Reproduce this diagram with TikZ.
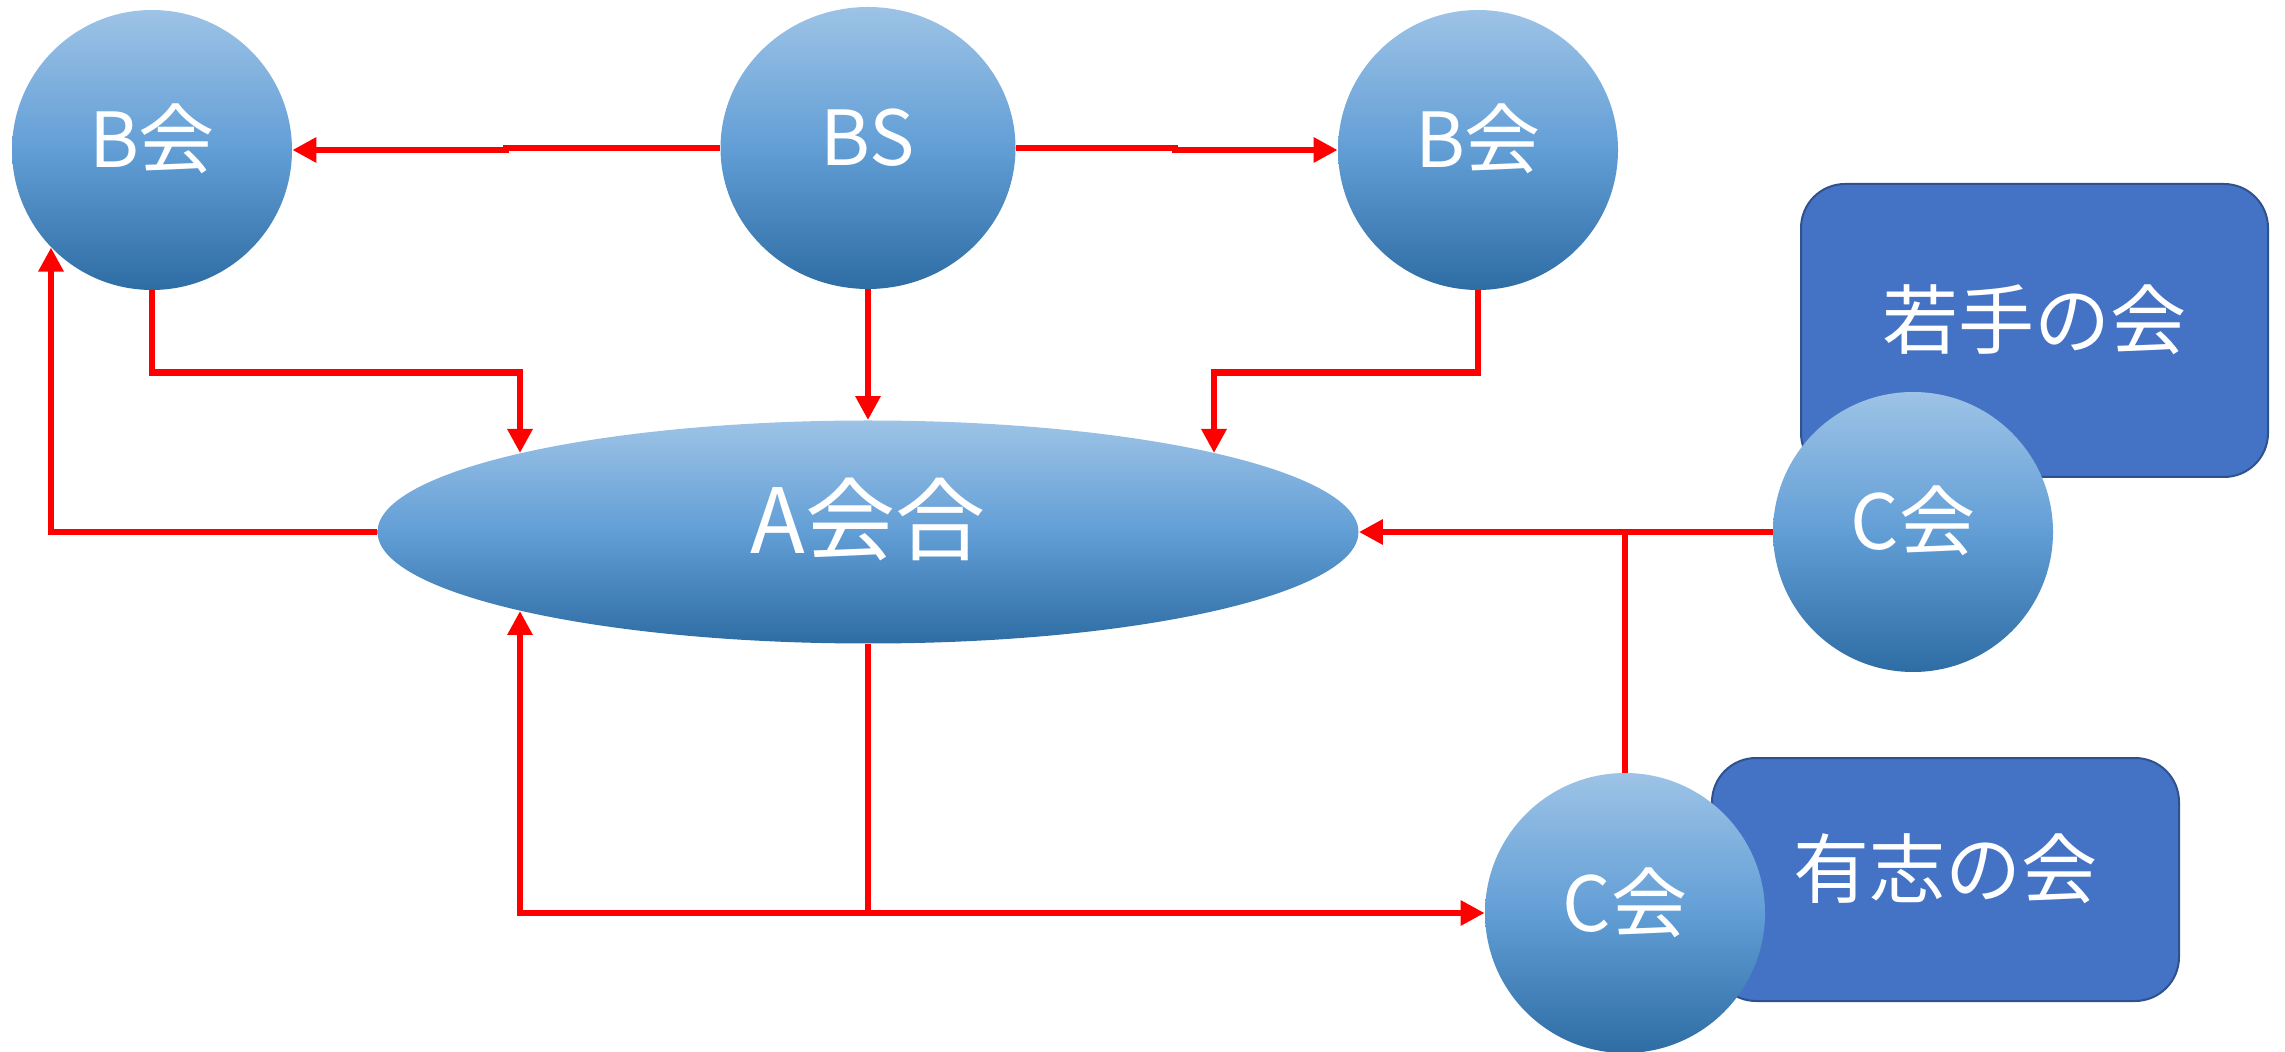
\documentclass[tikz,border=0pt]{standalone}
\usepackage{fontspec}
\setmainfont{Noto Sans CJK JP}
\usetikzlibrary{arrows.meta,shapes.geometric,calc}
\definecolor{ctop}{RGB}{157,195,230}
\definecolor{cmid}{RGB}{98,158,214}
\definecolor{cbot}{RGB}{46,108,164}
\definecolor{boxfill}{RGB}{68,114,196}
\definecolor{boxline}{RGB}{47,82,143}
\newcommand\nodetext[2][-9pt]{\raisebox{#1}[0pt][0pt]{#2}}
\tikzset{
  orb/.style={ellipse, inner sep=0pt, text=white, top color=ctop, bottom color=cbot, middle color=cmid, font=\fontsize{38}{44}\selectfont},
  circ/.style={orb, minimum width=140pt, minimum height=140pt},
  box/.style={rounded corners=22pt, draw=boxline, line width=1pt, fill=boxfill, text=white, minimum width=233.5pt, font=\fontsize{38}{44}\selectfont},
  conn/.style={draw=red, line width=3.3pt},
  arr/.style={conn, -{Triangle[length=12pt,width=12pt]}}
}
\begin{document}
\begin{tikzpicture}[x=0.5pt,y=-0.5pt]
\useasboundingbox (0,0) rectangle (2285,1052);
\node[box, minimum height=146.5pt] (W) at (2034.5,330.5) {\nodetext{若手の会}};
\node[box, minimum height=121.5pt] (Y) at (1945.5,879.5) {\nodetext{有志の会}};
\node[circ] (Bl) at (152,150) {\nodetext{B会}};
\node[orb, minimum width=147.5pt, minimum height=141pt] (BS) at (868,148) {\nodetext{BS}};
\node[circ] (Br) at (1478,150) {\nodetext{B会}};
\node[circ] (Cr) at (1913,532) {\nodetext{C会}};
\node[circ] (Cb) at (1625,913) {\nodetext{C会}};
\node[orb, minimum width=490.5pt, minimum height=111.5pt, font=\fontsize{45}{52}\selectfont] (A) at (868,532) {\nodetext[-11pt]{A会合}};
\coordinate (AinL) at ($(A.center)+(-348,-79)$);
\coordinate (AinR) at ($(A.center)+(346,-79)$);
\coordinate (AinB) at ($(A.center)+(-348,79)$);
\draw[arr] (BS.west) -- ++(-214,0) |- (Bl.east);
\draw[arr] (BS.east) -- ++(159,0) |- (Br.west);
\draw[arr] (Bl.south) -- ++(0,82) -| (AinL);
\draw[arr] (BS.south) -- (A.north);
\draw[arr] (Br.south) -- ++(0,82) -| (AinR);
\draw[arr] (A.west) -| (Bl.224);
\draw[arr] (Cr.west) -- (A.east);
\draw[conn] (Cb.north) -- (Cb.north |- A.east);
\draw[arr] (A.south) |- (Cb.west);
\draw[arr] (A.south |- Cb.west) -| (AinB);
\end{tikzpicture}
\end{document}
